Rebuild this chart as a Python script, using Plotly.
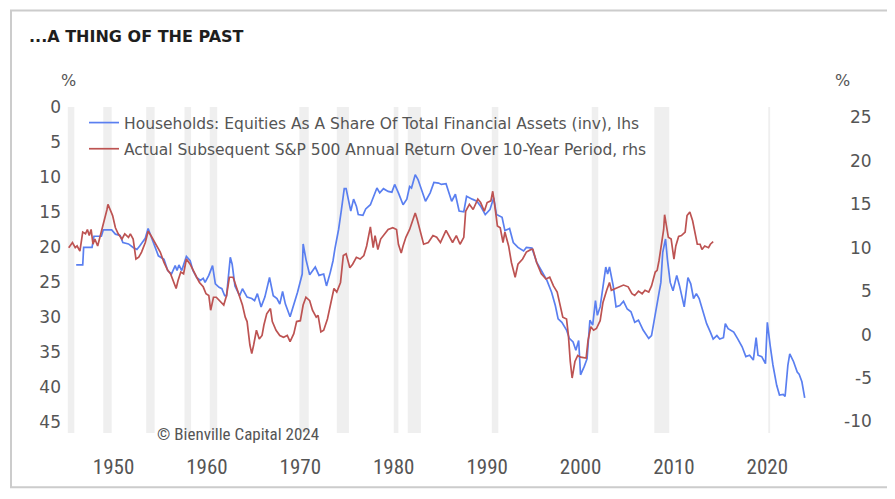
import plotly.graph_objects as go

# ---------------- data ----------------
hh_years = [1946.0, 1946.7, 1946.8, 1947.7, 1947.9, 1948.7, 1948.9, 1949.8, 1950.2, 1950.7,
            1951.0, 1951.6, 1952.1, 1952.5, 1952.8, 1953.4, 1953.7, 1954.0, 1954.4, 1954.8,
            1955.4, 1955.8, 1956.2, 1956.6, 1956.8, 1957.0, 1957.3, 1957.8, 1958.2, 1958.5,
            1958.9, 1959.3, 1959.6, 1959.8, 1960.2, 1960.6, 1960.9, 1961.3, 1961.6, 1961.9,
            1962.1, 1962.5, 1962.7, 1963.0, 1963.5, 1963.8, 1964.3, 1964.8, 1965.1, 1965.4,
            1965.8, 1966.2, 1966.7, 1967.1, 1967.5, 1967.8, 1968.1, 1968.4, 1968.9, 1969.3,
            1969.7, 1970.2, 1970.3, 1970.6, 1971.0, 1971.6, 1972.0, 1972.5, 1972.8, 1973.2,
            1973.5, 1973.7, 1974.1, 1974.4, 1974.7, 1974.9, 1975.1, 1975.4, 1975.7, 1976.0,
            1976.2, 1976.7, 1977.0, 1977.5, 1978.2, 1978.5, 1978.9, 1979.4, 1979.8, 1980.1,
            1980.5, 1981.0, 1981.4, 1981.7, 1981.9, 1982.3, 1982.6, 1983.0, 1983.4, 1983.9,
            1984.3, 1984.8, 1985.1, 1985.6, 1985.8, 1986.2, 1986.6, 1987.0, 1987.5, 1987.8,
            1988.4, 1988.9, 1989.3, 1989.8, 1990.3, 1990.7, 1991.0, 1991.6, 1991.9, 1992.4,
            1992.8, 1993.3, 1993.9, 1994.2, 1994.8, 1995.3, 1995.8, 1996.4, 1996.9, 1997.3,
            1997.6, 1998.0, 1998.5, 1998.8, 1999.2, 1999.5, 1999.8, 2000.0, 2000.4, 2000.7,
            2001.0, 2001.3, 2001.6, 2001.8, 2002.1, 2002.4, 2002.7, 2002.9, 2003.1, 2003.5,
            2003.8, 2004.2, 2004.6, 2005.0, 2005.4, 2005.8, 2006.2, 2006.7, 2007.3, 2007.6,
            2008.0, 2008.3, 2008.6, 2008.8, 2009.1, 2009.3, 2009.6, 2009.9, 2010.3, 2010.6,
            2011.1, 2011.5, 2011.8, 2012.1, 2012.4, 2012.7, 2013.1, 2013.5, 2013.9, 2014.2,
            2014.6, 2014.9, 2015.3, 2015.5, 2015.8, 2016.4, 2016.8, 2017.3, 2017.7, 2018.1,
            2018.5, 2018.8, 2019.0, 2019.4, 2019.8, 2020.0, 2020.3, 2020.6, 2021.0, 2021.3,
            2021.7, 2021.9, 2022.2, 2022.4, 2022.8, 2023.2, 2023.4, 2023.7, 2024.0]
hh_equity_share = [22.5, 22.5, 20.0, 20.0, 18.4, 18.4, 17.5, 17.5, 18.1, 18.3,
                   19.3, 19.5, 20.0, 20.3, 19.8, 18.7, 17.3, 18.4, 19.8, 21.2,
                   21.7, 23.3, 23.8, 22.6, 23.3, 22.5, 23.3, 21.3, 21.9, 23.3,
                   24.3, 24.7, 24.4, 25.0, 24.0, 22.6, 25.2, 25.7, 25.9, 26.9,
                   26.9, 21.4, 22.4, 25.5, 26.9, 25.9, 27.1, 27.3, 27.6, 26.6,
                   28.5, 27.1, 24.3, 26.9, 27.3, 28.1, 26.3, 28.1, 29.9, 28.3,
                   26.4, 23.8, 19.5, 21.7, 23.9, 22.8, 24.0, 23.8, 25.5, 23.6,
                   21.9, 20.2, 17.4, 14.6, 11.6, 11.6, 13.1, 14.8, 13.1, 14.1,
                   15.3, 15.4, 14.5, 13.9, 11.5, 12.2, 11.6, 12.0, 12.1, 11.0,
                   12.2, 13.9, 13.1, 11.3, 11.5, 9.6, 10.3, 12.0, 13.4, 12.2,
                   10.7, 10.8, 11.0, 10.9, 11.7, 13.4, 12.4, 14.8, 14.9, 12.7,
                   13.1, 13.4, 14.1, 15.3, 14.6, 12.9, 15.3, 15.7, 17.6, 17.3,
                   19.3, 20.0, 20.5, 20.0, 20.1, 22.1, 23.3, 24.7, 26.4, 28.3,
                   30.2, 30.7, 31.8, 33.0, 33.5, 34.7, 33.3, 38.2, 37.0, 35.9,
                   30.4, 31.1, 27.6, 29.7, 28.5, 25.9, 22.8, 23.8, 22.8, 25.5,
                   28.5, 28.3, 27.7, 28.8, 29.2, 30.7, 30.4, 31.8, 33.0, 32.6,
                   29.7, 27.3, 25.0, 20.7, 18.8, 21.7, 25.0, 26.2, 24.0, 25.5,
                   28.5, 24.3, 25.2, 27.3, 26.6, 27.3, 29.2, 30.9, 32.1, 33.1,
                   32.6, 33.1, 32.9, 30.9, 31.6, 32.1, 33.0, 34.2, 35.6, 35.4,
                   36.1, 32.9, 35.4, 35.6, 36.6, 30.7, 34.0, 36.8, 39.7, 41.1,
                   41.0, 41.3, 36.8, 35.2, 36.3, 37.8, 38.1, 39.2, 41.5]

sp_years = [1945.2, 1945.6, 1945.9, 1946.1, 1946.4, 1946.7, 1947.0, 1947.2, 1947.4, 1947.6,
            1947.8, 1948.0, 1948.3, 1948.5, 1948.7, 1949.0, 1949.3, 1949.4, 1949.7, 1949.9,
            1950.2, 1950.5, 1950.9, 1951.2, 1951.6, 1951.8, 1952.1, 1952.4, 1952.7, 1953.0,
            1953.4, 1953.7, 1954.0, 1954.3, 1954.6, 1955.0, 1955.4, 1955.8, 1956.1, 1956.4,
            1956.7, 1956.9, 1957.2, 1957.5, 1957.8, 1958.2, 1958.5, 1958.9, 1959.2, 1959.6,
            1959.9, 1960.2, 1960.4, 1960.7, 1961.0, 1961.4, 1961.8, 1962.1, 1962.4, 1962.8,
            1963.1, 1963.5, 1963.8, 1964.1, 1964.3, 1964.6, 1964.8, 1965.0, 1965.3, 1965.6,
            1965.9, 1966.1, 1966.4, 1966.8, 1967.0, 1967.4, 1967.8, 1968.2, 1968.6, 1968.9,
            1969.3, 1969.6, 1970.0, 1970.3, 1970.6, 1971.0, 1971.3, 1971.7, 1971.9, 1972.2,
            1972.5, 1972.9, 1973.3, 1973.6, 1973.9, 1974.3, 1974.6, 1974.9, 1975.3, 1975.6,
            1976.0, 1976.4, 1976.8, 1977.1, 1977.5, 1977.8, 1978.0, 1978.3, 1978.6, 1979.0,
            1979.4, 1979.9, 1980.3, 1980.5, 1980.8, 1981.0, 1981.3, 1981.7, 1981.9, 1982.3,
            1982.5, 1982.8, 1983.2, 1983.7, 1984.2, 1984.6, 1985.0, 1985.6, 1986.0, 1986.3,
            1986.7, 1987.1, 1987.5, 1987.7, 1988.1, 1988.5, 1989.0, 1989.3, 1989.7, 1990.0,
            1990.4, 1990.6, 1990.8, 1991.1, 1991.4, 1991.7, 1991.9, 1992.3, 1992.6, 1993.0,
            1993.3, 1993.8, 1994.2, 1994.7, 1994.9, 1995.3, 1995.8, 1996.3, 1996.7, 1997.1,
            1997.5, 1997.7, 1998.1, 1998.5, 1998.7, 1998.9, 1999.1, 1999.4, 1999.7, 2000.0,
            2000.4, 2000.6, 2000.8, 2001.1, 2001.4, 2001.7, 2002.1, 2002.4, 2002.8, 2003.1,
            2003.3, 2003.8, 2004.2, 2004.6, 2005.1, 2005.5, 2005.8, 2006.2, 2006.6, 2006.9,
            2007.3, 2007.6, 2008.0, 2008.2, 2008.4, 2008.7, 2008.9, 2009.0, 2009.2, 2009.4,
            2009.7, 2009.8, 2010.0, 2010.2, 2010.5, 2010.8, 2011.2, 2011.4, 2011.7, 2012.0,
            2012.3, 2012.5, 2012.8, 2013.0, 2013.3, 2013.7, 2013.9, 2014.2]
sp_10y_return = [10.0, 10.6, 10.0, 10.2, 9.6, 11.8, 11.6, 12.1, 11.4, 12.1,
                 10.4, 11.0, 10.2, 11.0, 12.1, 13.3, 14.4, 15.0, 14.2, 13.7,
                 12.3, 11.6, 11.0, 11.6, 11.2, 11.6, 11.0, 8.7, 8.9, 9.5,
                 10.6, 11.9, 11.4, 10.8, 10.2, 9.5, 8.3, 7.4, 7.0, 6.2,
                 5.3, 6.2, 7.2, 7.0, 8.7, 8.1, 7.4, 6.6, 6.0, 5.5,
                 4.7, 4.5, 2.8, 4.3, 4.3, 3.9, 3.4, 4.5, 6.6, 6.6,
                 5.6, 4.5, 3.4, 2.0, 1.5, -1.2, -2.2, -1.2, 0.5, -0.5,
                 -0.1, 1.1, 2.4, 3.0, 1.5, 0.5, -0.1, -0.3, -0.1, -0.8,
                 0.1, 1.5, 1.6, 3.4, 4.3, 3.9, 2.8, 2.0, 2.2, 0.3,
                 0.5, 1.8, 3.7, 5.3, 4.9, 6.0, 9.1, 9.3, 7.7, 8.1,
                 8.9, 8.7, 9.1, 10.2, 12.4, 10.0, 11.4, 9.8, 11.0, 11.6,
                 12.1, 12.3, 12.1, 10.4, 9.4, 10.2, 11.2, 12.1, 12.7, 14.0,
                 13.3, 12.1, 10.4, 10.6, 11.4, 11.2, 10.6, 12.0, 11.2, 10.6,
                 11.4, 10.4, 11.2, 14.2, 15.0, 14.4, 15.6, 15.2, 14.2, 15.2,
                 15.4, 16.5, 15.0, 12.5, 12.3, 10.6, 11.8, 10.2, 8.3, 6.6,
                 8.1, 8.7, 9.5, 9.8, 9.8, 8.3, 7.0, 6.4, 6.6, 5.6,
                 4.9, 3.9, 2.0, 1.8, -0.1, -3.1, -5.0, -3.1, -2.4, -2.6,
                 -2.7, -2.7, -0.7, 0.9, 0.5, 0.7, 1.6, 3.7, 5.1, 6.0,
                 5.1, 5.3, 5.5, 5.7, 5.5, 4.7, 4.5, 5.0, 4.7, 5.1,
                 4.9, 5.6, 7.2, 7.4, 8.5, 10.4, 12.1, 13.8, 12.5, 11.2,
                 11.0, 10.2, 8.7, 10.2, 11.3, 11.4, 11.8, 13.7, 14.1, 13.1,
                 11.4, 10.4, 10.4, 9.8, 10.2, 10.0, 10.4, 10.7]

recession_start = [1945.1, 1948.9, 1953.5, 1957.6, 1960.3, 1969.9, 1973.9, 1980.0,
                   1981.5, 1990.5, 2001.2, 2007.9, 2020.1]
recession_end = [1945.8, 1949.8, 1954.4, 1958.3, 1961.1, 1970.9, 1975.2, 1980.5,
                 1982.9, 1991.2, 2001.9, 2009.5, 2020.3]

x_ticks = [1950, 1960, 1970, 1980, 1990, 2000, 2010, 2020]
left_ticks = [0, 5, 10, 15, 20, 25, 30, 35, 40, 45]
right_ticks = [25, 20, 15, 10, 5, 0, -5, -10]

title_text = "...A THING OF THE PAST"
name_blue = "Households: Equities As A Share Of Total Financial Assets (inv), lhs"
name_red = "Actual Subsequent S&P 500 Annual Return Over 10-Year Period, rhs"
source_text = "© Bienville Capital 2024"

# ---------------- figure ----------------
OFF = 8                      # page body margin of the browser
W, H = 895 - 2 * OFF, 499 - 2 * OFF
L, T = 66 - OFF, 107 - OFF
R, B = W - (830 - OFF), H - (435 - OFF)
pw, ph = W - L - R, H - T - B

TXT = "#555555"
FONT = "DejaVu Sans, Open Sans, sans-serif"
NARROW = "Liberation Sans Narrow, Roboto Condensed, Roboto, sans-serif"


def px_x(p):
    return (p - OFF - L) / pw


def px_y(p):
    return (H - B - (p - OFF)) / ph


fig = go.Figure()
fig.add_trace(go.Scatter(x=hh_years, y=hh_equity_share, name=name_blue, mode="lines",
                         line=dict(color="#5a7ff0", width=1.7), yaxis="y",
                         legendgroup="a"))
fig.add_trace(go.Scatter(x=sp_years, y=sp_10y_return, name=name_red, mode="lines",
                         line=dict(color="#bd5352", width=1.7), yaxis="y2",
                         legendgroup="b"))

shapes = []
for s, e in zip(recession_start, recession_end):
    shapes.append(dict(type="rect", xref="x", yref="paper", x0=s, x1=e, y0=0, y1=1,
                       fillcolor="#efefef", line=dict(width=0), layer="below"))

# card frame (left, top, bottom edges)
frame_pts = [(1100, 10), (11, 10), (11, 489.5), (1100, 489.5)]
shapes.append(dict(type="path", xref="paper", yref="paper",
                   path="M " + " L ".join(f"{px_x(a):.5f},{px_y(b):.5f}" for a, b in frame_pts),
                   line=dict(color="#cccccc", width=2), layer="below"))

annotations = [
    dict(text="<b>" + title_text + "</b>", xref="paper", yref="paper", x=px_x(27),
         y=px_y(36), xanchor="left", yanchor="middle", showarrow=False,
         font=dict(family="DejaVu Sans, sans-serif", size=16, color="#1e1e1e")),
    dict(text="%", xref="paper", yref="paper", x=px_x(68), y=px_y(80), xanchor="center",
         yanchor="middle", showarrow=False, font=dict(family=FONT, size=16, color=TXT)),
    dict(text="%", xref="paper", yref="paper", x=px_x(843), y=px_y(80), xanchor="center",
         yanchor="middle", showarrow=False, font=dict(family=FONT, size=16, color=TXT)),
    dict(text=source_text, xref="paper", yref="paper", x=px_x(155), y=px_y(436),
         xanchor="left", yanchor="middle", showarrow=False,
         font=dict(family=NARROW, size=17, color=TXT)),
]
for v in right_ticks:
    annotations.append(dict(text=str(v), xref="paper", yref="y2", x=px_x(874), y=v,
                            xanchor="right", yanchor="middle", showarrow=False,
                            font=dict(family=FONT, size=17, color=TXT)))

fig.update_layout(
    width=W, height=H,
    margin=dict(l=L, r=R, t=T, b=B, pad=0),
    paper_bgcolor="white", plot_bgcolor="white",
    showlegend=True,
    legend=dict(x=px_x(84), y=px_y(106), xanchor="left", yanchor="top",
                bgcolor="rgba(0,0,0,0)", traceorder="grouped", tracegroupgap=3,
                font=dict(family=FONT, size=15.5, color=TXT)),
    xaxis=dict(range=[1944.91, 1944.91 + pw / 9.34], tickvals=x_ticks,
               ticktext=[str(v) for v in x_ticks], showgrid=False, zeroline=False,
               showline=False, ticks="", ticklabelstandoff=19,
               tickfont=dict(family=NARROW, size=21, color=TXT)),
    yaxis=dict(range=[46.52, -0.07], tickvals=left_ticks, showgrid=False, zeroline=False,
               showline=False, ticks="", ticklabelstandoff=4,
               tickfont=dict(family=FONT, size=17, color=TXT)),
    yaxis2=dict(range=[-11.33, 26.2], overlaying="y", side="right", showgrid=False,
                zeroline=False, showline=False, showticklabels=False, ticks=""),
    shapes=shapes,
    annotations=annotations,
)

fig.write_html("out.html")
